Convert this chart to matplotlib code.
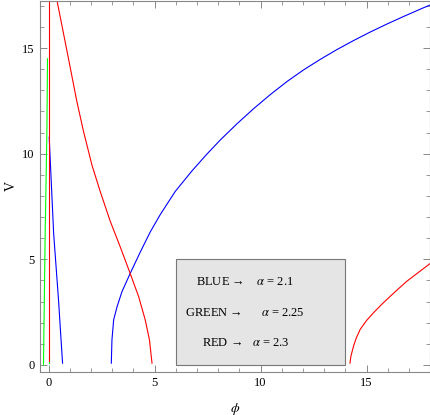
import matplotlib
matplotlib.use("Agg")
import matplotlib.pyplot as plt
from matplotlib.patches import Rectangle
from matplotlib.ticker import MultipleLocator

plt.rcParams['font.family'] = ['Liberation Serif', 'DejaVu Serif']
plt.rcParams['mathtext.fontset'] = 'stix'

# ---- data ----
blue1_x = [0.03, 0.24, 0.47, 0.66]
blue1_v = [10.78, 6.22, 3.07, 0.08]

blue2_x = [2.96, 2.99, 3.07, 3.23, 3.46, 3.85, 4.33, 4.80, 5.27, 5.98, 6.76, 7.45,
           8.10, 8.89, 9.67, 10.46, 11.25, 12.03, 12.82, 13.60, 14.39, 15.17,
           15.96, 16.75, 17.66, 18.0]
blue2_v = [0.08, 1.18, 2.13, 2.75, 3.46, 4.33, 5.35, 6.30, 7.12, 8.22, 9.18, 9.96,
           10.65, 11.42, 12.13, 12.80, 13.42, 13.97, 14.47, 14.93, 15.36, 15.76,
           16.14, 16.50, 16.90, 17.04]

green_x = [-0.24, -0.16, -0.08, -0.05]
green_v = [0.0, 6.22, 10.95, 14.5]
green2_x = [0.0, 0.0]
green2_v = [0.1, 0.35]

red1_x = [0.0, 0.0]
red1_v = [0.16, 17.3]

red2_x = [0.40, 0.71, 1.02, 1.34, 1.65, 2.05, 2.44, 2.91, 3.38, 3.85, 4.25,
          4.56, 4.76, 4.88]
red2_v = [17.24, 15.67, 14.09, 12.45, 11.05, 9.45, 8.20, 6.80, 5.59, 4.33, 3.23,
          2.13, 1.18, 0.08]

red3_x = [14.22, 14.26, 14.39, 14.52, 14.70, 15.00, 15.33, 15.70, 16.12, 16.50, 16.90, 17.45, 18.0]
red3_v = [0.08, 0.40, 0.90, 1.28, 1.68, 2.10, 2.47, 2.85, 3.25, 3.60, 3.96, 4.38, 4.80]

legend_lines = ["BLUE \u2192    $\\alpha$ = 2.1",
                "GREEN \u2192      $\\alpha$ = 2.25",
                "RED \u2192   $\\alpha$ = 2.3"]
legend_v = [3.93, 2.47, 1.02]
xticks = [0, 5, 10, 15]
yticks = [0, 5, 10, 15]

# ---- figure ----
fig = plt.figure(figsize=(4.31, 4.15), dpi=100)
ax = fig.add_axes([0.093, 0.104, 0.905, 0.894])

lw = 0.8
kw = dict(lw=lw, solid_joinstyle='round')
ax.plot(blue1_x, blue1_v, color=(0, 0, 1), **kw)
ax.plot(blue2_x, blue2_v, color=(0, 0, 1), **kw)
ax.plot(green_x, green_v, color=(0, 1, 0), **kw)
ax.plot(green2_x, green2_v, color=(0, 1, 0), **kw)
ax.plot(red1_x, red1_v, color=(1, 0, 0), **kw)
ax.plot(red2_x, red2_v, color=(1, 0, 0), **kw)
ax.plot(red3_x, red3_v, color=(1, 0, 0), **kw)

ax.set_xlim(-0.4, 18.0)
ax.set_ylim(-0.33, 17.24)

# legend box
ax.add_patch(Rectangle((6.0, 0.0), 8.0, 5.0, facecolor='#e5e5e5',
                       edgecolor='#777777', lw=0.8, zorder=3))
for txt, v in zip(legend_lines, legend_v):
    ax.text(9.28, v, txt, ha='center', va='center', fontsize=9, zorder=4)

ax.set_xticks(xticks)
ax.set_yticks(yticks)
ax.xaxis.set_minor_locator(MultipleLocator(1))
ax.yaxis.set_minor_locator(MultipleLocator(1))
ax.tick_params(which='both', direction='in', top=True, right=True,
               color='#888888', labelsize=9, pad=4)
ax.tick_params(which='major', length=5, width=0.7)
ax.tick_params(which='minor', length=3, width=0.6)
for s in ax.spines.values():
    s.set_color('#888888')
    s.set_linewidth(0.8)

ax.set_xlabel(r'$\phi$', fontsize=10, labelpad=8)
ax.set_ylabel('V', fontsize=10, labelpad=3)

fig.savefig('out.png', dpi=100)
